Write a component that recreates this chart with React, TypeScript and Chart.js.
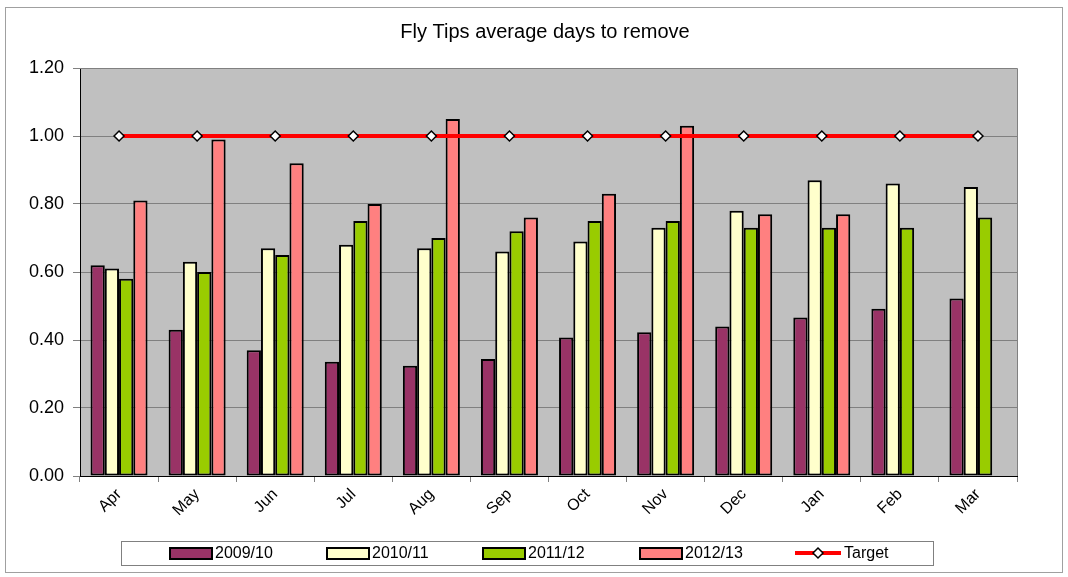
import React, { useEffect, useRef } from "react";
import { Chart, registerables } from "chart.js";

Chart.register(...registerables);

const months = ["Apr", "May", "Jun", "Jul", "Aug", "Sep", "Oct", "Nov", "Dec", "Jan", "Feb", "Mar"];
const s0910 = [0.62, 0.43, 0.37, 0.336, 0.324, 0.344, 0.407, 0.423, 0.44, 0.466, 0.492, 0.522];
const s1011 = [0.61, 0.63, 0.67, 0.68, 0.67, 0.66, 0.69, 0.73, 0.78, 0.87, 0.86, 0.85];
const s1112 = [0.58, 0.60, 0.65, 0.75, 0.70, 0.72, 0.75, 0.75, 0.73, 0.73, 0.73, 0.76];
const s1213 = [0.81, 0.99, 0.92, 0.80, 1.05, 0.76, 0.83, 1.03, 0.77, 0.77, null, null];
const target = [1, 1, 1, 1, 1, 1, 1, 1, 1, 1, 1, 1];
const seriesNames = ["2009/10", "2010/11", "2011/12", "2012/13", "Target"];
const yTicks = [0, 0.2, 0.4, 0.6, 0.8, 1.0, 1.2];
const titleText = "Fly Tips average days to remove";

const COLORS = ["#993366", "#FFFFCC", "#99CC00", "#FF8080"];
const FONT = "'Liberation Sans', Arial, sans-serif";

const decorPlugin = {
  id: "decor",
  beforeDraw(chart: any) {
    const { ctx, chartArea } = chart;
    ctx.save();
    ctx.fillStyle = "#FFFFFF";
    ctx.fillRect(0, 0, chart.width, chart.height);
    ctx.strokeStyle = "#A0A0A0";
    ctx.lineWidth = 1;
    ctx.strokeRect(5.5, 7.5, 1057, 565);
    ctx.fillStyle = "#C0C0C0";
    ctx.fillRect(chartArea.left, chartArea.top, chartArea.right - chartArea.left, chartArea.bottom - chartArea.top);
    ctx.restore();
  },
  beforeDatasetsDraw(chart: any) {
    const { ctx, chartArea } = chart;
    ctx.save();
    ctx.strokeStyle = "#808080";
    ctx.lineWidth = 1;
    ctx.beginPath();
    ctx.moveTo(chartArea.left, chartArea.top + 0.5);
    ctx.lineTo(chartArea.right + 0.5, chartArea.top + 0.5);
    ctx.lineTo(chartArea.right + 0.5, chartArea.bottom);
    ctx.stroke();
    ctx.restore();
  },
  afterDraw(chart: any) {
    const { ctx } = chart;
    ctx.save();
    // title
    ctx.fillStyle = "#000";
    ctx.font = `20px ${FONT}`;
    ctx.textAlign = "center";
    ctx.textBaseline = "middle";
    ctx.fillText(titleText, 545, 32);
    // legend box
    ctx.strokeStyle = "#808080";
    ctx.lineWidth = 1;
    ctx.fillStyle = "#FFFFFF";
    ctx.fillRect(121.5, 541.5, 812, 24);
    ctx.strokeRect(121.5, 541.5, 812, 24);
    const ly = 553;
    const xs = [170, 327, 483, 640, 795];
    ctx.font = `16px ${FONT}`;
    ctx.textAlign = "left";
    ctx.textBaseline = "middle";
    for (let i = 0; i < 4; i++) {
      ctx.fillStyle = COLORS[i];
      ctx.fillRect(xs[i], ly - 5, 42, 11);
      ctx.strokeStyle = "#000";
      ctx.lineWidth = 2;
      ctx.strokeRect(xs[i], ly - 5, 42, 11);
      ctx.fillStyle = "#000";
      ctx.fillText(seriesNames[i], xs[i] + 45, ly + 1);
    }
    // target
    const tx = xs[4];
    ctx.strokeStyle = "#FF0000";
    ctx.lineWidth = 4;
    ctx.beginPath();
    ctx.moveTo(tx, ly);
    ctx.lineTo(tx + 46, ly);
    ctx.stroke();
    ctx.fillStyle = "#FFFFFF";
    ctx.strokeStyle = "#000";
    ctx.lineWidth = 1.5;
    ctx.beginPath();
    ctx.moveTo(tx + 23, ly - 5);
    ctx.lineTo(tx + 28, ly);
    ctx.lineTo(tx + 23, ly + 5);
    ctx.lineTo(tx + 18, ly);
    ctx.closePath();
    ctx.fill();
    ctx.stroke();
    ctx.fillStyle = "#000";
    ctx.fillText(seriesNames[4], tx + 49, ly + 1);
    ctx.restore();
  },
};

export default function App() {
  const ref = useRef<HTMLCanvasElement | null>(null);
  useEffect(() => {
    document.body.style.margin = "0";
    const canvas = ref.current!;
    const barDs = [s0910, s1011, s1112, s1213].map((d, i) => ({
      type: "bar" as const,
      label: seriesNames[i],
      data: d,
      backgroundColor: COLORS[i],
      borderColor: "#000000",
      borderWidth: 2,
      borderSkipped: false as const,
      barPercentage: 1,
      categoryPercentage: 0.73,
      order: 2,
    }));
    const chart = new Chart(canvas, {
      type: "bar",
      data: {
        labels: months,
        datasets: [
          ...barDs,
          {
            type: "line" as const,
            label: seriesNames[4],
            data: target,
            borderColor: "#FF0000",
            borderWidth: 4,
            pointStyle: "rectRot",
            pointRadius: 5,
            pointBackgroundColor: "#FFFFFF",
            pointBorderColor: "#000000",
            pointBorderWidth: 1.5,
            fill: false,
            order: 0,
          } as any,
        ],
      },
      options: {
        responsive: false,
        animation: false,
        layout: { padding: { top: 68, right: 51, left: 0, bottom: 0 } },
        plugins: { legend: { display: false }, title: { display: false }, tooltip: { enabled: false } },
        scales: {
          x: {
            offset: true,
            grid: { offset: true, drawOnChartArea: false, drawTicks: true, tickLength: 6, color: "#808080" },
            border: { color: "#000000", width: 1 },
            ticks: { color: "#000", font: { family: FONT, size: 16 }, maxRotation: 45, minRotation: 45, padding: 3 },
            afterFit: (s: any) => { s.height = 101; },
          },
          y: {
            min: 0,
            max: 1.2,
            afterBuildTicks: (s: any) => { s.ticks = yTicks.map((v) => ({ value: v })); },
            grid: { color: "#808080", tickLength: 7 },
            border: { color: "#000000", width: 1 },
            ticks: { color: "#000", font: { family: FONT, size: 18 }, padding: 9, callback: (v: any) => Number(v).toFixed(2) },
            afterFit: (s: any) => { s.width = 80; },
          },
        },
      },
      plugins: [decorPlugin],
    });
    return () => chart.destroy();
  }, []);
  return <canvas ref={ref} width={1068} height={577} style={{ display: "block" }} />;
}
